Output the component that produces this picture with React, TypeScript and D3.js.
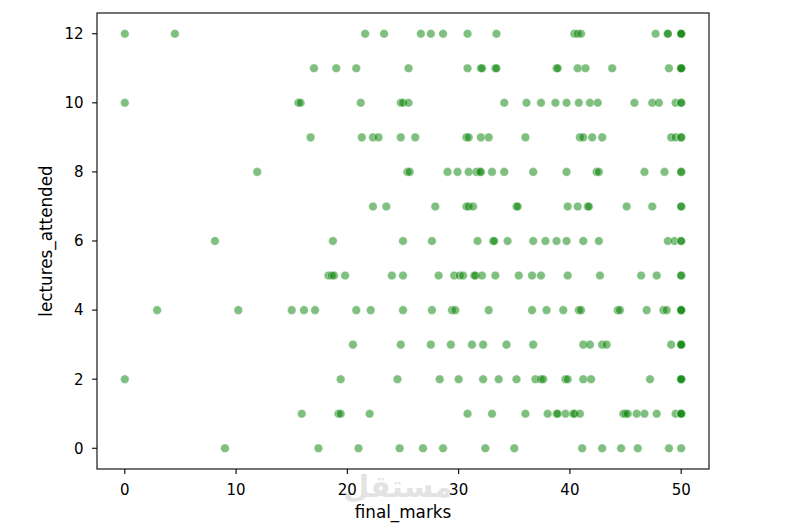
import React from 'react';
import * as d3 from 'd3';

// final_marks for each value of lectures_attended
const marksAt0 = [9.0, 17.4, 21.0, 24.7, 26.8, 28.6, 32.4, 35.0, 41.1, 42.9, 44.6, 46.1, 48.9, 50];
const marksAt1 = [15.9, 19.2, 19.4, 22.0, 30.8, 33.0, 36.0, 38.0, 38.8, 38.9, 39.6, 40.3, 40.4, 40.9, 44.8, 45.0, 45.2, 46.0, 46.7, 47.8, 49.5, 50, 50, 50];
const marksAt2 = [0, 19.4, 24.5, 28.3, 30.0, 32.2, 33.6, 35.2, 36.9, 37.4, 37.6, 39.6, 39.8, 41.2, 41.9, 47.2, 50, 50, 50];
const marksAt3 = [20.5, 24.8, 27.5, 29.3, 31.2, 32.2, 34.3, 36.7, 41.2, 41.8, 42.9, 43.3, 49.1, 50, 50, 50];
const marksAt4 = [2.9, 10.2, 15.0, 16.1, 17.1, 20.8, 22.1, 25.0, 27.6, 29.4, 29.7, 32.7, 36.6, 37.9, 39.4, 40.8, 41.0, 44.3, 44.5, 46.9, 48.4, 48.7, 50, 50, 50];
const marksAt5 = [18.3, 18.6, 18.8, 19.8, 24.0, 25.0, 28.2, 29.6, 30.1, 30.4, 31.4, 31.5, 32.1, 33.3, 35.4, 36.6, 37.4, 39.8, 42.7, 46.4, 47.8, 50, 50];
const marksAt6 = [8.1, 18.7, 25.0, 27.6, 31.7, 33.1, 33.2, 34.4, 36.7, 37.8, 38.8, 39.7, 41.2, 42.6, 48.8, 49.4, 50, 50];
const marksAt7 = [22.3, 23.5, 27.9, 30.7, 30.9, 31.3, 35.2, 35.3, 39.8, 40.7, 41.6, 41.7, 45.1, 47.4, 50, 50];
const marksAt8 = [11.9, 25.4, 25.6, 29.0, 29.9, 30.9, 31.6, 31.9, 32.0, 33.0, 34.1, 36.7, 39.7, 42.4, 42.6, 46.7, 48.5, 50, 50];
const marksAt9 = [16.7, 21.3, 22.3, 22.8, 24.8, 26.1, 30.7, 30.9, 32.0, 32.7, 36.0, 40.9, 41.2, 42.0, 42.9, 49.1, 49.5, 50, 50];
const marksAt10 = [0, 15.6, 15.8, 21.2, 24.8, 25.0, 25.5, 34.1, 36.1, 37.4, 38.7, 39.7, 40.8, 41.8, 42.5, 45.8, 47.4, 48.0, 49.5, 50, 50];
const marksAt11 = [17.0, 19.0, 20.8, 25.5, 30.8, 32.0, 32.1, 33.3, 33.4, 38.8, 38.9, 40.7, 41.4, 43.8, 48.9, 50, 50, 50];
const marksAt12 = [0, 4.5, 21.6, 23.3, 26.6, 27.5, 28.6, 30.8, 33.4, 40.4, 40.7, 41.0, 47.7, 48.8, 48.8, 50, 50, 50];

const marksByLectures = [
  marksAt0, marksAt1, marksAt2, marksAt3, marksAt4, marksAt5, marksAt6,
  marksAt7, marksAt8, marksAt9, marksAt10, marksAt11, marksAt12,
];

const xTicks = [0, 10, 20, 30, 40, 50];
const yTicks = [0, 2, 4, 6, 8, 10, 12];

const W = 800;
const H = 532;
const margin = { top: 13, right: 91, bottom: 63, left: 97 };
const FONT = 'DejaVu Sans, sans-serif';
const TICK_SIZE = 15;
const LABEL_SIZE = 16.8;

export default function App() {
  const points = marksByLectures.flatMap((marks, lectures) =>
    marks.map(m => ({ x: m, y: lectures }))
  );

  const x = d3.scaleLinear().domain([-2.5, 52.5]).range([margin.left, W - margin.right]);
  const y = d3.scaleLinear().domain([-0.6, 12.6]).range([H - margin.bottom, margin.top]);

  const bottom = H - margin.bottom;
  const left = margin.left;

  return (
    <svg
      width={W}
      height={H}
      style={{ position: 'absolute', left: 0, top: 0, background: '#fff' }}
      fontFamily={FONT}
    >
      <rect x={0} y={0} width={W} height={H} fill="#fff" />

      {/* watermark */}
      <text
        x={398}
        y={497}
        textAnchor="middle"
        fontSize={30}
        fontWeight="bold"
        fill="#dcdcdc"
        fillOpacity={0.8}
        fontFamily="DejaVu Sans, Noto Sans, sans-serif"
      >
        مستقل
      </text>

      {points.map((p, i) => (
        <circle
          key={i}
          cx={x(p.x)}
          cy={y(p.y)}
          r={4.3}
          fill="#008000"
          fillOpacity={0.5}
          stroke="#ffffff"
          strokeOpacity={0.5}
          strokeWidth={0.7}
        />
      ))}

      {/* frame */}
      <rect
        x={margin.left}
        y={margin.top}
        width={W - margin.left - margin.right}
        height={H - margin.top - margin.bottom}
        fill="none"
        stroke="#000"
        strokeWidth={1.1}
      />

      {/* x axis */}
      {xTicks.map(t => (
        <g key={`x${t}`} transform={`translate(${x(t)},${bottom})`}>
          <line y2={4.9} stroke="#000" strokeWidth={1.1} />
          <text y={25.5} textAnchor="middle" fontSize={TICK_SIZE} fill="#000">
            {t}
          </text>
        </g>
      ))}
      <text x={(margin.left + W - margin.right) / 2} y={518} textAnchor="middle" fontSize={LABEL_SIZE} fill="#000">
        final_marks
      </text>

      {/* y axis */}
      {yTicks.map(t => (
        <g key={`y${t}`} transform={`translate(${left},${y(t)})`}>
          <line x2={-4.9} stroke="#000" strokeWidth={1.1} />
          <text x={-13.5} dy="0.36em" textAnchor="end" fontSize={TICK_SIZE} fill="#000">
            {t}
          </text>
        </g>
      ))}
      <text
        transform={`translate(52,${(margin.top + bottom) / 2}) rotate(-90)`}
        textAnchor="middle"
        fontSize={LABEL_SIZE}
        fill="#000"
      >
        lectures_attended
      </text>
    </svg>
  );
}
